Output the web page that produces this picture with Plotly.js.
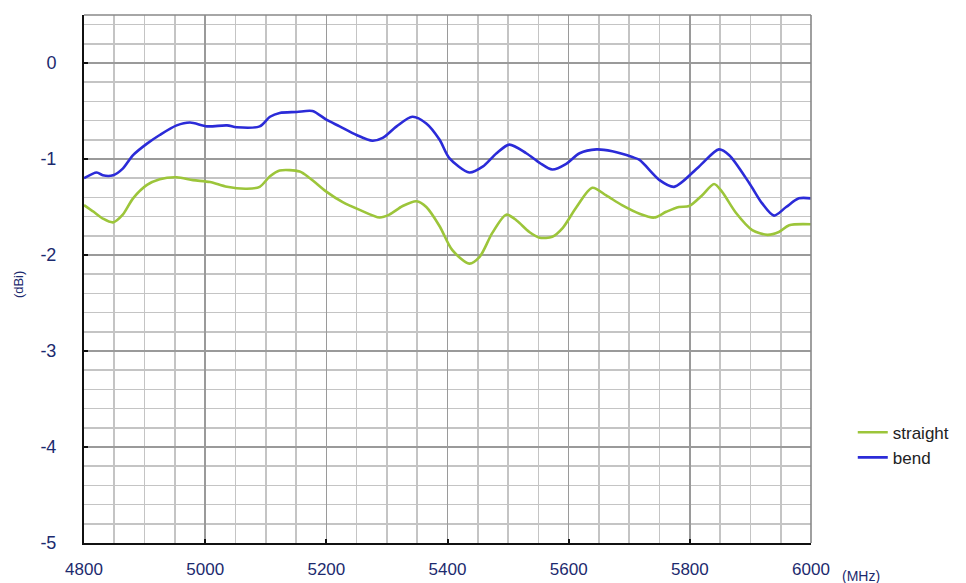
<!DOCTYPE html>
<html>
<head>
<meta charset="utf-8">
<script src="https://cdn.plot.ly/plotly-3.0.1.min.js"></script>
<style>html,body{margin:0;padding:0;background:#fff}#chart{width:966px;height:583px}</style>
</head>
<body>
<div id="chart"></div>
<script>
// Frequency (MHz) and gain (dBi)
const bendFreq = [4800,4821,4831,4848,4864,4881,4904,4925,4953,4975,5003,5036,5052,5090,5107,5123,5151,5177,5200,5222,5250,5276,5293,5316,5342,5365,5387,5403,5436,5458,5481,5502,5530,5552,5573,5596,5618,5646,5672,5705,5717,5750,5774,5815,5848,5865,5898,5919,5939,5959,5980,6000];
const bendGain = [-1.20,-1.14,-1.17,-1.17,-1.10,-0.96,-0.84,-0.75,-0.65,-0.62,-0.66,-0.65,-0.67,-0.66,-0.56,-0.52,-0.51,-0.50,-0.59,-0.66,-0.75,-0.81,-0.78,-0.66,-0.56,-0.63,-0.80,-0.99,-1.14,-1.08,-0.94,-0.85,-0.94,-1.04,-1.11,-1.05,-0.94,-0.90,-0.92,-0.98,-1.01,-1.22,-1.29,-1.08,-0.90,-0.96,-1.25,-1.46,-1.59,-1.50,-1.41,-1.41];
const straightFreq = [4800,4816,4831,4848,4864,4881,4904,4925,4953,4980,5008,5036,5069,5090,5107,5123,5156,5173,5200,5227,5255,5288,5304,5326,5349,5365,5387,5408,5436,5453,5474,5497,5514,5535,5552,5573,5590,5613,5639,5662,5688,5717,5741,5761,5782,5799,5820,5840,5853,5876,5903,5928,5947,5964,6000];
const straightGain = [-1.48,-1.55,-1.62,-1.66,-1.58,-1.41,-1.27,-1.21,-1.19,-1.22,-1.24,-1.29,-1.31,-1.29,-1.18,-1.12,-1.13,-1.20,-1.34,-1.45,-1.53,-1.61,-1.58,-1.49,-1.44,-1.50,-1.70,-1.95,-2.09,-2.02,-1.77,-1.58,-1.64,-1.76,-1.82,-1.81,-1.72,-1.50,-1.30,-1.38,-1.48,-1.57,-1.61,-1.55,-1.50,-1.49,-1.38,-1.26,-1.34,-1.56,-1.74,-1.79,-1.76,-1.69,-1.68];
const xTicks = [4800,5000,5200,5400,5600,5800,6000];
const yTicks = [-5,-4,-3,-2,-1,0];
const seriesNames = ['straight','bend'];
const xUnit = '(MHz)';
const yUnit = '(dBi)';

const navy = '#1c2a6e';
const traces = [
  {x: straightFreq, y: straightGain, name: seriesNames[0], type: 'scatter', mode: 'lines',
   line: {color: '#9cc53a', width: 2.6, shape: 'spline', smoothing: 0.8}},
  {x: bendFreq, y: bendGain, name: seriesNames[1], type: 'scatter', mode: 'lines',
   line: {color: '#2b2bd8', width: 2.6, shape: 'spline', smoothing: 0.8}}
];

const layout = {
  width: 966, height: 583,
  margin: {l: 84, r: 154, t: 15, b: 40},
  paper_bgcolor: '#fff', plot_bgcolor: '#fff',
  font: {family: 'Arial, Liberation Sans, sans-serif', color: navy},
  showlegend: true,
  legend: {x: 1.056, y: 0.243, xanchor: 'left', yanchor: 'top',
           font: {size: 17, color: '#222'}, bgcolor: 'rgba(0,0,0,0)', tracegroupgap: 0},
  xaxis: {
    range: [4800, 6000], tickvals: xTicks, ticktext: xTicks.map(String),
    showgrid: true, gridcolor: '#9a9a9a', gridwidth: 1.6,
    minor: {dtick: 50, tick0: 4800, showgrid: true, gridcolor: '#c4c4c4', gridwidth: 1.6},
    showline: true, linecolor: '#111', linewidth: 2,
    ticks: 'inside', ticklen: 4, tickcolor: '#111', tickwidth: 2,
    tickfont: {size: 17, color: navy}, ticklabelstandoff: 10,
    zeroline: false, fixedrange: true, automargin: false
  },
  yaxis: {
    range: [-5, 0.5], tickvals: yTicks, ticktext: yTicks.map(String),
    showgrid: true, gridcolor: '#9a9a9a', gridwidth: 1.6,
    minor: {dtick: 0.2, tick0: 0, showgrid: true, gridcolor: '#c4c4c4', gridwidth: 1.6},
    showline: true, linecolor: '#111', linewidth: 2,
    ticks: 'inside', ticklen: 4, tickcolor: '#111', tickwidth: 2,
    tickfont: {size: 18, color: navy}, ticklabelstandoff: 22,
    zeroline: false, fixedrange: true, automargin: false
  },
  shapes: [
    {type: 'line', xref: 'paper', yref: 'paper', x0: 0, x1: 1, y0: 1, y1: 1, line: {color: '#888', width: 1.6}},
    {type: 'line', xref: 'paper', yref: 'paper', x0: 1, x1: 1, y0: 0, y1: 1, line: {color: '#888', width: 1.6}}
  ],
  annotations: [
    {text: yUnit, xref: 'paper', yref: 'paper', x: -0.091, y: 0.49, textangle: -90,
     showarrow: false, font: {size: 13, color: navy}, xanchor: 'center', yanchor: 'middle'},
    {text: xUnit, xref: 'paper', yref: 'paper', x: 1.04, y: -0.062, showarrow: false,
     font: {size: 14, color: navy}, xanchor: 'left', yanchor: 'middle'}
  ]
};

Plotly.newPlot('chart', traces, layout, {displayModeBar: false, staticPlot: true});
</script>
</body>
</html>
